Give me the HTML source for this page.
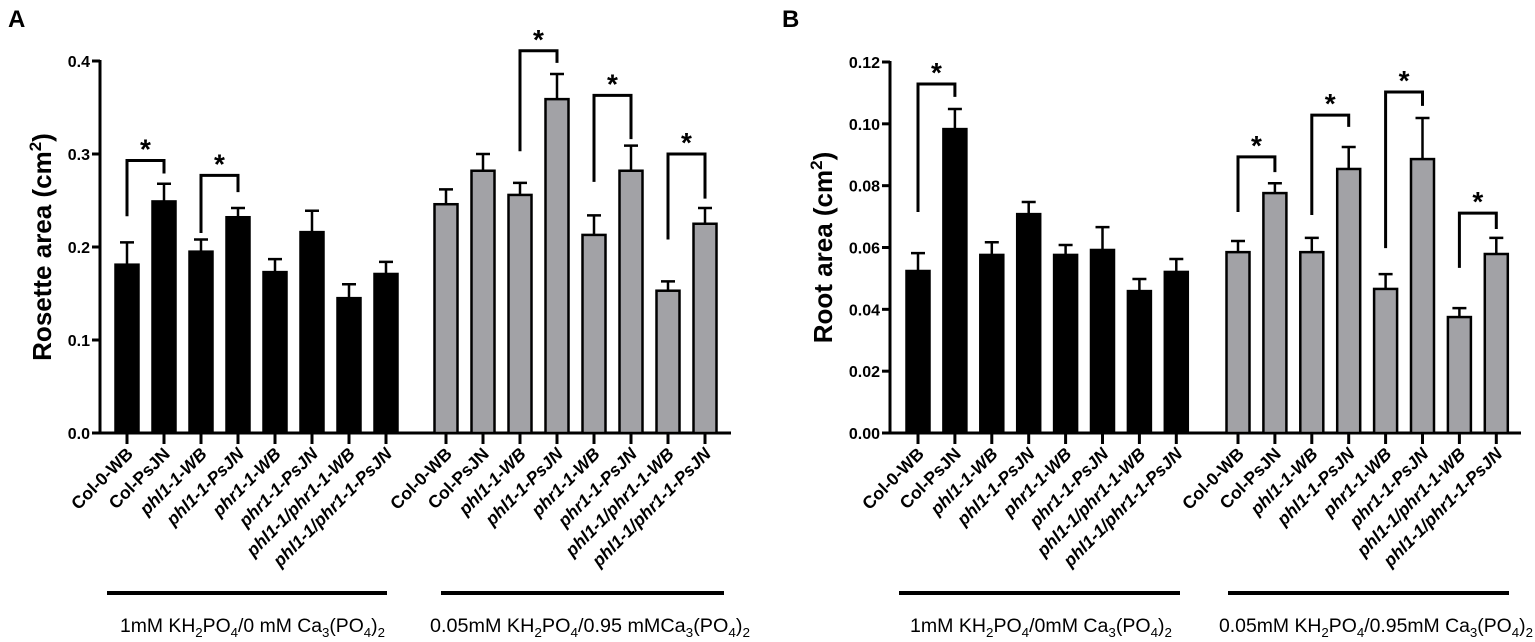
<!DOCTYPE html>
<html><head><meta charset="utf-8"><style>
html,body{margin:0;padding:0;background:#fff;}
svg{display:block;font-family:"Liberation Sans",Arial,sans-serif;}
</style></head><body>
<svg id="fig" width="1535" height="642" viewBox="0 0 1535 642"></svg>
<script>
// ---------- data ----------
const categories = ["Col-0-WB","Col-PsJN","phl1-1-WB","phl1-1-PsJN","phr1-1-WB","phr1-1-PsJN","phl1-1/phr1-1-WB","phl1-1/phr1-1-PsJN"];
const rosetteHigh = [0.181,0.249,0.195,0.232,0.173,0.216,0.145,0.171];
const rosetteHighErr = [0.024,0.019,0.013,0.010,0.014,0.023,0.015,0.013];
const rosetteLow = [0.246,0.282,0.256,0.359,0.213,0.282,0.153,0.225];
const rosetteLowErr = [0.016,0.018,0.013,0.027,0.021,0.027,0.010,0.017];
const rootHigh = [0.0524,0.0983,0.0576,0.0708,0.0576,0.0592,0.0459,0.0521];
const rootHighErr = [0.0058,0.0065,0.0041,0.0039,0.0032,0.0074,0.0039,0.0042];
const rootLow = [0.0585,0.0776,0.0585,0.0854,0.0466,0.0886,0.0375,0.0579];
const rootLowErr = [0.0036,0.0032,0.0046,0.0071,0.0048,0.0133,0.0029,0.0052];
const rosetteTicks = [0.0,0.1,0.2,0.3,0.4];
const rosetteTickLabels = ["0.0","0.1","0.2","0.3","0.4"];
const rootTicks = [0,0.02,0.04,0.06,0.08,0.10,0.12];
const rootTickLabels = ["0.00","0.02","0.04","0.06","0.08","0.10","0.12"];
// brackets: [leftIndex, rightIndex, topValue, leftBottomValue, rightBottomValue]
const rosetteBrackets = [[0,1,0.293,0.233,0.279],[2,3,0.277,0.215,0.259],[10,11,0.411,0.303,0.398],[12,13,0.363,0.270,0.316],[14,15,0.300,0.208,0.252]];
const rootBrackets = [[0,1,0.1129,0.0715,0.1087],[8,9,0.0893,0.0715,0.0844],[10,11,0.1028,0.0705,0.0990],[12,13,0.1103,0.0598,0.1058],[14,15,0.0711,0.0534,0.0660]];

const NS = "http://www.w3.org/2000/svg";
const svg = document.getElementById('fig');
function mk(tag, attrs, parent, text){
  const e = document.createElementNS(NS, tag);
  for (const k in attrs) e.setAttribute(k, attrs[k]);
  if (text !== undefined) e.textContent = text;
  (parent||svg).appendChild(e);
  return e;
}

function drawPanel(cfg){
  const g = mk('g', {});
  
  
  const y = v => cfg.y0 - (v - 0) / cfg.ymax * (cfg.y0 - cfg.ytop);
  const xAt = i => i < 8 ? cfg.g1x + i * cfg.step : cfg.g2x + (i - 8) * cfg.step;
  const L = mk('text', {x: cfg.letterX, y: 27, 'font-size': 24, 'font-weight': 'bold'}, g, cfg.letter);
  
  
  const ya = mk('line', {x1: cfg.axisX, x2: cfg.axisX, y1: cfg.ytop - 1, y2: cfg.y0 + 1.5, stroke: '#000', 'stroke-width': 3}, g);
  
  
  cfg.ticks.forEach((t, k) => {
    mk('line', {x1: cfg.axisX - 8, x2: cfg.axisX, y1: y(t), y2: y(t), stroke: '#000', 'stroke-width': 3}, g);
    const tl = mk('text', {x: cfg.axisX - 10, y: y(t) + 6, 'font-size': 16, 'font-weight': 'bold', 'text-anchor': 'end'}, g, cfg.tickLabels[k]);
    
    
  });
  const yt = mk('text', {x: 0, y: 0, 'font-size': 26, 'font-weight': 'bold', 'text-anchor': 'middle', transform: `translate(${cfg.titleX},${(cfg.y0 + cfg.ytop) / 2}) rotate(-90)`}, g);
  
  
  mk('tspan', {}, yt, cfg.title + ' (cm');
  mk('tspan', {dy: -10, 'font-size': 17}, yt, '2');
  mk('tspan', {dy: 10}, yt, ')');
  const xa = mk('line', {x1: cfg.axisX - 1.5, x2: cfg.axisEnd, y1: cfg.y0, y2: cfg.y0, stroke: '#000', 'stroke-width': 3}, g);
  
  
  const vals = cfg.high.concat(cfg.low), errs = cfg.highErr.concat(cfg.lowErr);
  const bw = 23;
  vals.forEach((v, i) => {
    const cx = xAt(i);
    const fill = i < 8 ? '#000' : '#a2a2a6';
    const e = mk('path', {d: `M${cx} ${y(v)} V${y(v + errs[i])} M${cx - 7} ${y(v + errs[i])} H${cx + 7}`, stroke: '#000', 'stroke-width': 2.5, fill: 'none'}, g);
    
    
    const b = mk('rect', {x: cx - bw / 2, y: y(v), width: bw, height: cfg.y0 - y(v), fill: fill, stroke: '#000', 'stroke-width': 2.5}, g);
    
    
    mk('line', {x1: cx, x2: cx, y1: cfg.y0, y2: cfg.y0 + 11, stroke: '#000', 'stroke-width': 3}, g);
    const c = categories[i % 8];
    const ital = c.startsWith('ph');
    const lbl = mk('text', {x: 0, y: 0, 'font-size': 17.5, 'font-weight': 'bold', 'font-style': ital ? 'italic' : 'normal', 'text-anchor': 'end', transform: `translate(${cx + 7},${cfg.y0 + 22}) rotate(-45)`}, g, c);
    
    
  });
  cfg.brackets.forEach(br => {
    const x1 = xAt(br[0]), x2 = xAt(br[1]);
    const p = mk('path', {d: `M${x1} ${y(br[3])} V${y(br[2])} H${x2} V${y(br[4])}`, stroke: '#000', 'stroke-width': 3, fill: 'none'}, g);
    
    
    const s = mk('text', {x: (x1 + x2) / 2, y: y(br[2]) - 2, 'font-size': 28, 'font-weight': 'bold', 'text-anchor': 'middle'}, g, '*');
    
    
  });
  cfg.groups.forEach(gr => {
    const ln = mk('line', {x1: gr.x1, x2: gr.x2, y1: 593, y2: 593, stroke: '#000', 'stroke-width': 4}, g);
    
    
    const t = mk('text', {x: gr.tx, y: 632, 'font-size': 19, textLength: gr.tw, lengthAdjust: 'spacingAndGlyphs'}, g);
    
    
    gr.parts.forEach(pt => {
      if (pt[1] === 'sub') mk('tspan', {dy: 5, 'font-size': 13}, t, pt[0]);
      else mk('tspan', {dy: pt[2] || 0}, t, pt[0]);
    });
  });
}

function chem(a, b){
  return [[a + 'KH'], ['2','sub'], ['PO', '', -5], ['4','sub'], ['/' + b + 'Ca', '', -5], ['3','sub'], ['(PO', '', -5], ['4','sub'], [')', '', -5], ['2','sub']];
}

drawPanel({name: 'panel-a-rosette-area', letter: 'A', letterX: 8, axisX: 100, axisEnd: 731, y0: 433, ytop: 61, ymax: 0.4,
  g1x: 127, g2x: 446, step: 37, titleX: 51, title: 'Rosette area',
  ticks: rosetteTicks, tickLabels: rosetteTickLabels,
  high: rosetteHigh, highErr: rosetteHighErr, low: rosetteLow, lowErr: rosetteLowErr, brackets: rosetteBrackets,
  groups: [{x1: 107, x2: 387, tx: 120, tw: 265, parts: chem('1mM ', '0 mM ')},
           {x1: 441, x2: 724, tx: 430, tw: 320, parts: chem('0.05mM ', '0.95 mM')}]});

drawPanel({name: 'panel-b-root-area', letter: 'B', letterX: 782, axisX: 890, axisEnd: 1521, y0: 433, ytop: 62, ymax: 0.12,
  g1x: 918, g2x: 1238, step: 36.9, titleX: 832, title: 'Root area',
  ticks: rootTicks, tickLabels: rootTickLabels,
  high: rootHigh, highErr: rootHighErr, low: rootLow, lowErr: rootLowErr, brackets: rootBrackets,
  groups: [{x1: 899, x2: 1180, tx: 910, tw: 262, parts: chem('1mM ', '0mM ')},
           {x1: 1228, x2: 1509, tx: 1219, tw: 314, parts: chem('0.05mM ', '0.95mM ')}]});
</script>
</body></html>
